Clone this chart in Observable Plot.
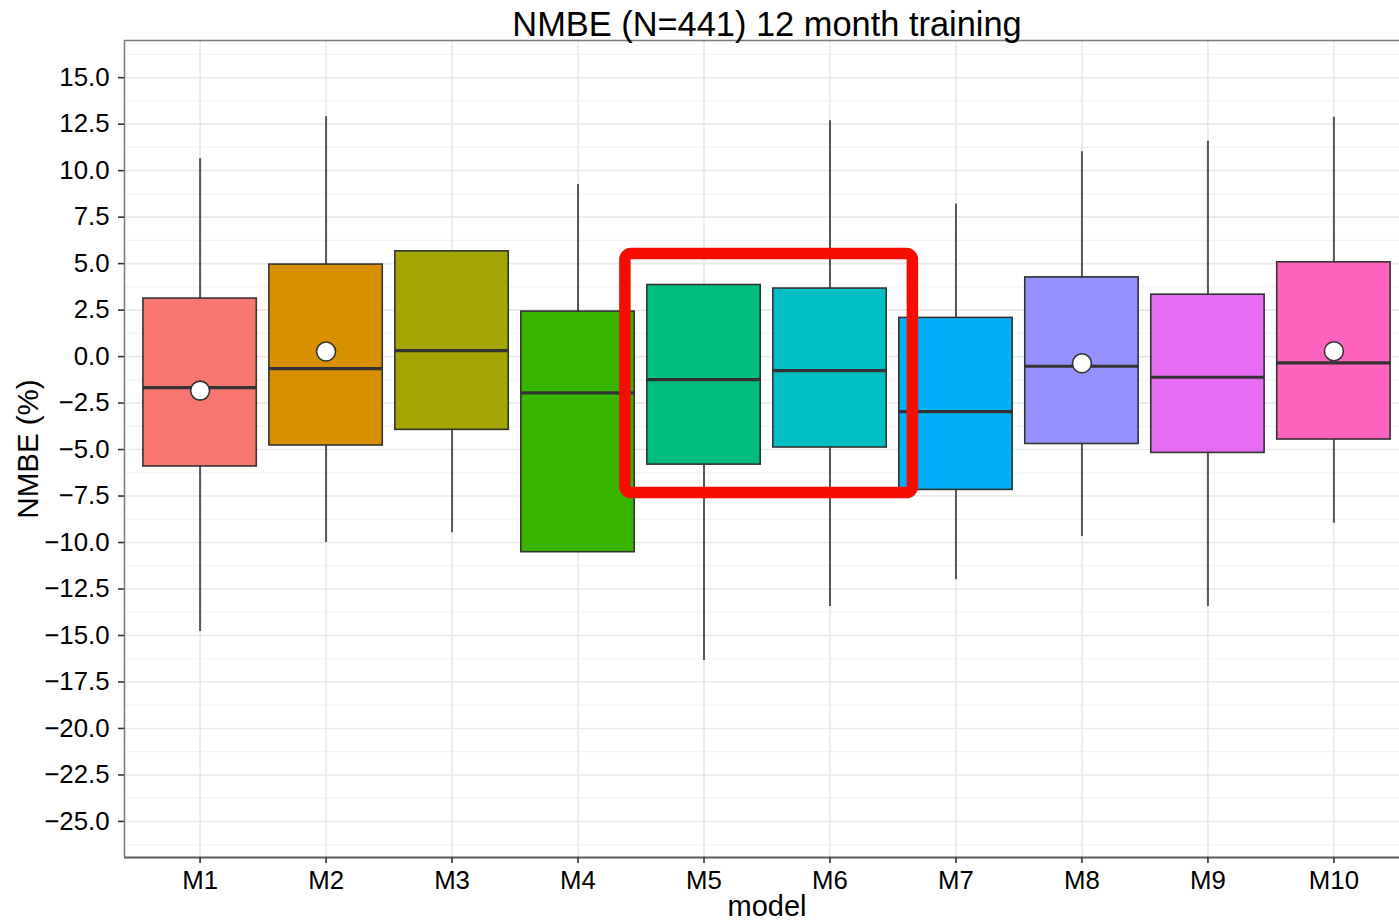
<!DOCTYPE html>
<html>
<head>
<meta charset="utf-8">
<script src="https://cdn.jsdelivr.net/npm/d3@7"></script>
<script src="https://cdn.jsdelivr.net/npm/@observablehq/plot@0.6"></script>
<style>
  html, body { margin: 0; padding: 0; background: white; overflow: hidden; }
  #chart svg { display: block; overflow: hidden; }
</style>
</head>
<body>
<div id="chart"></div>
<script>
// ---- data ----
const models      = ["M1", "M2", "M3", "M4", "M5", "M6", "M7", "M8", "M9", "M10"];
const whiskerHigh = [10.65, 12.90, 5.66, 9.25, 3.85, 12.69, 8.21, 11.02, 11.58, 12.87];
const q3          = [3.12, 4.95, 5.66, 2.42, 3.85, 3.66, 2.08, 4.26, 3.33, 5.07];
const medians     = [-1.67, -0.65, 0.32, -1.95, -1.24, -0.75, -2.96, -0.52, -1.11, -0.34];
const q1          = [-5.91, -4.78, -3.94, -10.52, -5.81, -4.89, -7.17, -4.70, -5.18, -4.46];
const whiskerLow  = [-14.78, -10.00, -9.48, -10.52, -16.34, -13.44, -12.00, -9.68, -13.44, -8.96];
const colors      = ["#F8766D", "#D89000", "#A3A500", "#39B600", "#00BF7D", "#00BFC4", "#00B0F6", "#9590FF", "#E76BF3", "#FF62BC"];
const meanModels  = ["M1", "M2", "M8", "M10"];
const meanValues  = [-1.83, 0.27, -0.36, 0.29];
const yTicks      = [-25, -22.5, -20, -17.5, -15, -12.5, -10, -7.5, -5, -2.5, 0, 2.5, 5, 7.5, 10, 12.5, 15];
const yMinor      = [-26.25, -23.75, -21.25, -18.75, -16.25, -13.75, -11.25, -8.75, -6.25, -3.75, -1.25, 1.25, 3.75, 6.25, 8.75, 11.25, 13.75, 16.25];
const highlightFrom = [4.376];
const highlightTo   = [6.658];
const highlightTop  = [5.52];
const highlightBot  = [-7.34];
const title   = "NMBE (N=441) 12 month training";
const xTitle  = "model";
const yTitle  = "NMBE (%)";

// ---- build tables ----
const boxes = models.map((m, k) => ({
  model: m, i: k + 1, hi: whiskerHigh[k], q3: q3[k], med: medians[k], q1: q1[k], lo: whiskerLow[k], color: colors[k]
}));
const means = meanModels.map((m, k) => ({ i: models.indexOf(m) + 1, v: meanValues[k] }));
const highlight = highlightFrom.map((v, k) => ({ x1: v, x2: highlightTo[k], y1: highlightBot[k], y2: highlightTop[k] }));
const xIdx = models.map((m, k) => k + 1);

const half = 0.45;   // half box width (ggplot width 0.9)
const yDomain = [-26.94, 17.0];
const xDomain = [0.4, models.length + 0.6];

const font = "'Liberation Sans', Arial, Helvetica, sans-serif";

const chart = Plot.plot({
  width: 1399,
  height: 921,
  marginLeft: 124,
  marginRight: 0,
  marginTop: 40,
  marginBottom: 64,
  style: { fontFamily: font, background: "white", color: "black" },
  x: { type: "linear", domain: xDomain, range: [124, 1409] },
  y: { domain: yDomain },
  marks: [
    // grid
    Plot.ruleY(yMinor, { stroke: "#f3f3f3", strokeWidth: 1.2 }),
    Plot.ruleY(yTicks, { stroke: "#e9e9e9", strokeWidth: 1.6 }),
    Plot.ruleX(xIdx, { stroke: "#e9e9e9", strokeWidth: 1.6 }),
    // whiskers
    Plot.ruleX(boxes, { x: "i", y1: "lo", y2: "hi", stroke: "#555555", strokeWidth: 2 }),
    // boxes
    Plot.rect(boxes, {
      x1: d => d.i - half, x2: d => d.i + half, y1: "q1", y2: "q3",
      fill: "color", stroke: "#333333", strokeWidth: 1.6
    }),
    // medians
    Plot.ruleY(boxes, { x1: d => d.i - half, x2: d => d.i + half, y: "med", stroke: "#333333", strokeWidth: 3.2 }),
    // means
    Plot.dot(means, { x: "i", y: "v", r: 9.5, fill: "white", stroke: "#333333", strokeWidth: 1.6 }),
    // highlight annotation
    Plot.rect(highlight, { x1: "x1", x2: "x2", y1: "y1", y2: "y2", fill: "none", stroke: "#f70c00", strokeWidth: 11.5, rx: 6 }),
    // panel border
    Plot.ruleY([yDomain[1]], { stroke: "#7a7a7a", strokeWidth: 1.5 }),
    Plot.ruleY([yDomain[0]], { stroke: "#5a5a5a", strokeWidth: 1.8 }),
    Plot.ruleX([xDomain[0]], { stroke: "#7a7a7a", strokeWidth: 1.5 }),
    // axes
    Plot.axisY(yTicks, {
      tickFormat: d3.format(".1f"), tickSize: 6, tickPadding: 9, fontSize: 25.8,
      stroke: "#333333", strokeWidth: 1.6, fill: "black", label: null
    }),
    Plot.axisX(xIdx, {
      tickFormat: i => models[i - 1], tickSize: 6, tickPadding: 7, fontSize: 25.8,
      stroke: "#333333", strokeWidth: 1.6, fill: "black", label: null
    }),
    // titles
    Plot.text([title], { x: [(xDomain[0] + xDomain[1]) / 2], frameAnchor: "top", dy: -16, textAnchor: "middle", lineAnchor: "middle", fontSize: 34.4, fill: "black" }),
    Plot.text([xTitle], { x: [(xDomain[0] + xDomain[1]) / 2], frameAnchor: "bottom", dy: 49, textAnchor: "middle", lineAnchor: "middle", fontSize: 29, fill: "black" }),
    Plot.text([yTitle], { frameAnchor: "left", dx: -96, rotate: -90, textAnchor: "middle", lineAnchor: "middle", fontSize: 29.5, fill: "black" })
  ]
});
document.getElementById("chart").appendChild(chart);
</script>
</body>
</html>
